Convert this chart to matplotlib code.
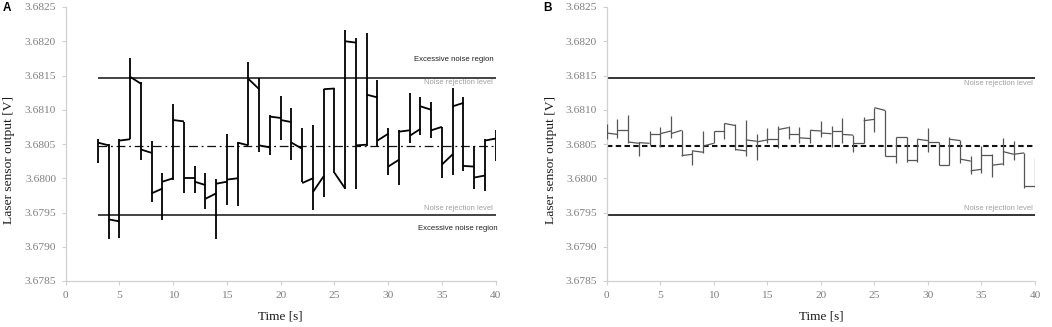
import matplotlib
matplotlib.use("Agg")
import matplotlib.pyplot as plt
import numpy as np

# ---------------- data ----------------
# Panel A: seconds 3..40 (range bars) and 3..39 (within-second segments)
A_t = list(range(3, 41))
A_start = [3.68052, 3.67940, 3.68055, 3.68148, 3.68042, 3.67978, 3.67995, 3.68085,
           3.68000, 3.67995, 3.67970, 3.67992, 3.67998, 3.68052, 3.68145, 3.68048,
           3.68090, 3.68085, 3.68052, 3.67993, 3.67980, 3.68130, 3.68008, 3.68200,
           3.68048, 3.68122, 3.68055, 3.68017, 3.68068, 3.68062, 3.68105, 3.68070,
           3.68020, 3.68105, 3.68018, 3.68001, 3.68055]
A_end = [3.68048, 3.67937, 3.68057, 3.68138, 3.68037, 3.67985, 3.68000, 3.68083,
         3.68000, 3.67990, 3.67978, 3.67995, 3.68000, 3.68048, 3.68130, 3.68045,
         3.68088, 3.68082, 3.68043, 3.68000, 3.68003, 3.68131, 3.67985, 3.68198,
         3.68049, 3.68118, 3.68065, 3.68027, 3.68070, 3.68072, 3.68100, 3.68075,
         3.68035, 3.68110, 3.68017, 3.68004, 3.68058]
A_low = [3.68022, 3.67911, 3.67913, 3.68058, 3.68026, 3.67965, 3.67939, 3.67998,
         3.67979, 3.67978, 3.67955, 3.67911, 3.67961, 3.67960, 3.68048, 3.68039,
         3.68034, 3.68056, 3.68026, 3.67994, 3.67954, 3.67972, 3.68007, 3.67985,
         3.67984, 3.68047, 3.68047, 3.68005, 3.67990, 3.68051, 3.68063, 3.68059,
         3.68001, 3.68005, 3.68010, 3.67985, 3.67981, 3.68025]
A_high = [3.68057, 3.68050, 3.68057, 3.68176, 3.68141, 3.68055, 3.68008, 3.68108,
          3.68082, 3.68018, 3.68008, 3.67999, 3.68065, 3.68053, 3.68170, 3.68147,
          3.68092, 3.68120, 3.68103, 3.68074, 3.68078, 3.68131, 3.68132, 3.68217,
          3.68205, 3.68212, 3.68143, 3.68074, 3.68070, 3.68125, 3.68118, 3.68112,
          3.68075, 3.68132, 3.68119, 3.68047, 3.68057, 3.68071]

# Panel B: seconds 0..40
B_t = list(range(0, 41))
B_start = [3.68066, 3.68071, 3.68053, 3.68052, 3.68064, 3.68065, 3.68065, 3.68033,
           3.68040, 3.68047, 3.68069, 3.68080, 3.68042, 3.68056, 3.68053, 3.68057,
           3.68071, 3.68065, 3.68059, 3.68070, 3.68066, 3.68069, 3.68064, 3.68052,
           3.68084, 3.68103, 3.68033, 3.68060, 3.68026, 3.68057, 3.68053, 3.68020,
           3.68057, 3.68028, 3.68011, 3.68034, 3.68019, 3.68039, 3.68035, 3.67988]
B_end = [3.68064, 3.68071, 3.68051, 3.68051, 3.68064, 3.68069, 3.68070, 3.68035,
         3.68038, 3.68051, 3.68069, 3.68077, 3.68040, 3.68054, 3.68056, 3.68057,
         3.68074, 3.68065, 3.68058, 3.68069, 3.68065, 3.68069, 3.68063, 3.68052,
         3.68086, 3.68099, 3.68033, 3.68060, 3.68026, 3.68055, 3.68053, 3.68020,
         3.68055, 3.68025, 3.68013, 3.68034, 3.68021, 3.68035, 3.68037, 3.67988]
B_low = [3.68057, 3.68059, 3.68052, 3.68033, 3.68048, 3.68046, 3.68059, 3.68033,
         3.68020, 3.68037, 3.68051, 3.68057, 3.68041, 3.68033, 3.68027, 3.68051,
         3.68044, 3.68058, 3.68051, 3.68052, 3.68060, 3.68046, 3.68052, 3.68038,
         3.68051, 3.68068, 3.68033, 3.68022, 3.68024, 3.68023, 3.68039, 3.68019,
         3.68019, 3.68022, 3.68006, 3.68007, 3.68002, 3.68019, 3.68027, 3.67986,
         3.67986]
B_high = [3.68079, 3.68086, 3.68092, 3.68053, 3.68069, 3.68075, 3.68091, 3.68071,
          3.68041, 3.68069, 3.68069, 3.68080, 3.68079, 3.68085, 3.68064, 3.68074,
          3.68076, 3.68076, 3.68075, 3.68071, 3.68084, 3.68076, 3.68088, 3.68063,
          3.68090, 3.68103, 3.68099, 3.68060, 3.68060, 3.68057, 3.68074, 3.68053,
          3.68060, 3.68056, 3.68032, 3.68047, 3.68035, 3.68059, 3.68055, 3.68037,
          3.68029]

upper_level = 3.68147
lower_level = 3.67946
mean_level = 3.68047

y_ticks = [3.6785, 3.6790, 3.6795, 3.6800, 3.6805, 3.6810, 3.6815, 3.6820, 3.6825]
x_ticks = [0, 5, 10, 15, 20, 25, 30, 35, 40]

# ---------------- figure ----------------
W, H = 1052, 327
fig = plt.figure(figsize=(W / 100, H / 100), dpi=100)
axA = fig.add_axes([65.7 / W, 1 - 281 / H, 430 / W, 274 / H])
axB = fig.add_axes([606.7 / W, 1 - 281 / H, 428.3 / W, 274 / H])

serif = ["Liberation Serif", "DejaVu Serif"]
sans = ["Liberation Sans", "DejaVu Sans"]
grey_axis = "#d0d0d0"


def style(ax):
    ax.set_xlim(0, 40)
    ax.set_ylim(3.6785, 3.6825)
    ax.set_xticks(x_ticks)
    ax.set_yticks(y_ticks)
    ax.set_yticklabels([f"{v:.4f}" for v in y_ticks], family=serif, fontsize=8.2, color="#7f7f7f")
    ax.set_xticklabels([str(v) for v in x_ticks], family=serif, fontsize=8.2, color="#7f7f7f")
    for s in ["top", "right"]:
        ax.spines[s].set_visible(False)
    for s in ["left", "bottom"]:
        ax.spines[s].set_color(grey_axis)
        ax.spines[s].set_linewidth(0.9)
    ax.tick_params(axis="both", direction="out", length=3, width=0.8, color=grey_axis, pad=4)
    ax.set_xlabel("Time [s]", family=serif, fontsize=9.5, color="#1a1a1a")
    ax.set_ylabel("Laser sensor output [V]", family=serif, fontsize=9.7, color="#1a1a1a")
    ax.xaxis.set_label_coords(0.5, -0.108)
    ax.yaxis.set_label_coords(-0.117, 0.44)


def draw_series(ax, t, start, end, low, high, color, lw):
    ax.vlines(t, low, high, colors=color, linewidth=lw, zorder=3)
    for i in range(len(start)):
        ax.plot([t[i], t[i] + 1], [start[i], end[i]], color=color, linewidth=lw,
                solid_capstyle="butt", zorder=3)


# Panel A
style(axA)
axA.hlines([upper_level, lower_level], A_t[0], 40, colors="#111111", linewidth=1.1, zorder=2)
axA.plot([A_t[0], 40], [mean_level, mean_level], color="#111111", linewidth=0.9,
         linestyle=(0, (7, 3, 1.5, 3)), zorder=2)
draw_series(axA, A_t, A_start, A_end, A_low, A_high, "#000000", 1.3)
axA.text(39.8, 3.68174, "Excessive noise region", ha="right", va="center",
         family=sans, fontsize=5.6, color="#222222")
axA.text(39.75, 3.68140, "Noise rejection level", ha="right", va="center",
         family=sans, fontsize=5.5, color="#a0a0a0")
axA.text(39.75, 3.67956, "Noise rejection level", ha="right", va="center",
         family=sans, fontsize=5.5, color="#a0a0a0")
axA.text(40.2, 3.67926, "Excessive noise region", ha="right", va="center",
         family=sans, fontsize=5.6, color="#222222")

# Panel B
style(axB)
axB.hlines([upper_level, lower_level], 0, 40, colors="#333333", linewidth=1.4, zorder=2)
axB.plot([0, 40], [mean_level, mean_level], color="#111111", linewidth=1.5,
         linestyle=(0, (2.6, 1.6)), zorder=2)
draw_series(axB, B_t, B_start, B_end, B_low, B_high, "#555555", 0.9)
axB.text(39.8, 3.68139, "Noise rejection level", ha="right", va="center",
         family=sans, fontsize=5.5, color="#a0a0a0")
axB.text(39.8, 3.67956, "Noise rejection level", ha="right", va="center",
         family=sans, fontsize=5.5, color="#a0a0a0")

# Panel letters
fig.text(3 / W, 1 - 8 / H, "A", family=sans, fontweight="bold", fontsize=8.5, va="center", ha="left")
fig.text(543 / W, 1 - 8 / H, "B", family=sans, fontweight="bold", fontsize=8.5, va="center", ha="left")

fig.savefig("out.png", dpi=100)
